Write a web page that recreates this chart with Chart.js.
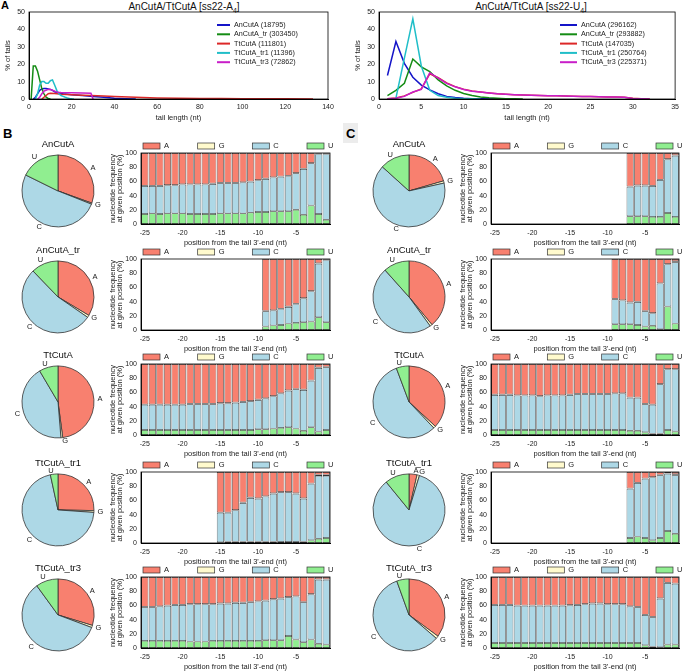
<!DOCTYPE html>
<html>
<head>
<meta charset="utf-8">
<script src="https://cdn.jsdelivr.net/npm/chart.js@4"></script>
<style>
  body { margin: 0; background: #fff; font-family: "Liberation Sans", Arial, sans-serif; }
  #page { position: relative; width: 683px; height: 671px; overflow: hidden; }
  canvas { position: absolute; }
  .panel { position: absolute; font-weight: bold; color: #000; }
  .ttl { position: absolute; top: 1px; width: 200px; text-align: center; font-size: 10px; line-height: 12px; color: #111; }
  .ttl sub { font-size: 7px; }
</style>
</head>
<body>
<div id="page">
  <div class="panel" style="left:1px;top:-1px;font-size:11px">A</div>
  <div class="panel" style="left:3px;top:126px;font-size:13px">B</div>
  <div style="position:absolute;left:343px;top:123px;width:15px;height:20px;background:#ececec"></div>
  <div class="panel" style="left:346px;top:126px;font-size:13px">C</div>
  <div class="ttl" style="left:84px">AnCutA/TtCutA [ss22-A<sub>4</sub>]</div>
  <div class="ttl" style="left:431px">AnCutA/TtCutA [ss22-U<sub>4</sub>]</div>
</div>
<script>
// ---- tail length distributions, ss22-A4 ----
const a4AnCutA_len = [2, 3, 4, 5, 6, 7, 8, 9, 10, 11, 12, 14, 16, 20, 25, 30, 35, 40, 45, 50];
const a4AnCutA_pct = [0, 1, 3, 5, 5.8, 6, 6, 5.8, 5.5, 5, 4.2, 3.5, 3, 2.5, 2, 1.5, 1, 0.5, 0.2, 0];
const a4AnCutAtr_len = [1, 2, 3, 4, 5, 6, 7, 8, 9, 10];
const a4AnCutAtr_pct = [0, 19, 19, 16, 11, 6, 3, 1, 0.3, 0.1];
const a4TtCutA_len = [6, 7, 8, 9, 10, 12, 15, 20, 25, 29, 35, 40, 50, 60, 70, 80, 90, 100, 110, 120, 133];
const a4TtCutA_pct = [0, 1, 2, 3, 3.3, 3.2, 2.8, 2.5, 2.2, 2, 1.7, 1.4, 1, 0.6, 0.45, 0.35, 0.25, 0.2, 0.15, 0.1, 0.05];
const a4TtCutAtr1_len = [3, 4, 5, 6, 7, 8, 9, 10, 11, 12, 13, 14, 15, 16, 17, 18, 19, 20, 21];
const a4TtCutAtr1_pct = [0, 3, 8, 10, 10, 9, 9, 10.5, 11, 8, 5, 3, 2, 1.5, 1, 0.6, 0.3, 0.1, 0];
const a4TtCutAtr3_len = [4, 5, 6, 7, 8, 9, 10, 11, 12, 13, 14, 15, 20, 25, 29, 30];
const a4TtCutAtr3_pct = [0, 1, 3, 4.5, 5, 5.5, 5.5, 5, 4.5, 4, 3.8, 3.7, 3.6, 3.5, 3.3, 0];

// ---- tail length distributions, ss22-U4 ----
const u4AnCutA_len = [1, 2, 3, 4, 5, 6, 7, 8, 9, 10, 11, 12, 15];
const u4AnCutA_pct = [13.5, 33, 20.5, 12.5, 8, 5.2, 3, 1.5, 0.8, 0.4, 0.2, 0.1, 0];
const u4AnCutAtr_len = [1, 2, 3, 4, 5, 6, 7, 8, 9, 10, 11, 12, 13, 14, 15, 16, 17];
const u4AnCutAtr_pct = [2, 5, 9, 23, 18.5, 15.7, 11, 7.5, 5, 3.2, 2, 1.2, 0.7, 0.4, 0.2, 0.1, 0];
const u4TtCutA_len = [1, 2, 3, 4, 5, 6, 7, 8, 9, 10, 11, 12, 13, 14, 15, 16, 17, 18, 19, 20, 21, 22, 23, 24, 25, 26, 27, 28, 29, 30, 31, 32];
const u4TtCutA_pct = [0.2, 0.6, 1.8, 3.8, 5.8, 14.5, 12.2, 9.2, 7.1, 5.6, 4.6, 4, 3.5, 3, 2.7, 2.5, 2.3, 2.1, 2, 1.9, 1.8, 1.7, 1.6, 1.5, 1.4, 1.3, 1.2, 1.1, 1, 0.4, 0.1, 0];
const u4TtCutAtr1_len = [2, 3, 4, 5, 6, 7, 8, 9, 10, 11, 12];
const u4TtCutAtr1_pct = [0.5, 23.5, 46, 19, 5, 2, 1, 0.4, 0.2, 0.1, 0];
const u4TtCutAtr3_len = [1, 2, 3, 4, 5, 6, 7, 8, 9, 10, 11, 12, 13, 14, 15, 16, 17, 18, 19, 20, 21, 22, 23, 24, 25, 26, 27, 28, 29, 30, 31, 32];
const u4TtCutAtr3_pct = [0.2, 0.5, 1.5, 4, 5.5, 15, 12, 9, 7, 5.5, 4.5, 4, 3.5, 3, 2.7, 2.5, 2.3, 2.1, 2, 1.9, 1.8, 1.7, 1.6, 1.5, 1.4, 1.3, 1.2, 1.1, 1, 0.3, 0.1, 0];

// ---- nucleotide composition ----
const nucleotides = ['A', 'G', 'C', 'U'];
const positions = [-25, -24, -23, -22, -21, -20, -19, -18, -17, -16, -15, -14, -13, -12, -11, -10, -9, -8, -7, -6, -5, -4, -3, -2, -1];

const pieB_AnCutA = [30.5, 0.5, 51.3, 17.7];
const pieB_AnCutAtr = [33.6, 1, 53.2, 12.2];
const pieB_TtCutA = [47.9, 0.8, 42.8, 8.5];
const pieB_TtCutAtr1 = [25.3, 0.8, 70.5, 3.4];
const pieB_TtCutAtr3 = [29.7, 1, 59.3, 10];
const pieC_AnCutA = [20.5, 1, 65.2, 13.3];
const pieC_AnCutAtr = [39, 1, 48.4, 11.6];
const pieC_TtCutA = [36.9, 1, 56.4, 5.7];
const pieC_TtCutAtr1 = [3.6, 1.1, 84.4, 10.9];
const pieC_TtCutAtr3 = [35.1, 1.2, 58.2, 5.5];

// panel B, per position (-25 .. -1)
const bAnCutA_U = [14, 15, 14, 15, 15, 15, 14, 14, 14, 14, 15, 15, 15, 15, 16, 17, 17, 18, 18, 18, 20, 13, 26, 14, 6];
const bAnCutA_C = [39.4, 38.4, 39.4, 39.4, 39.4, 40.4, 41.4, 41.4, 41.4, 42.4, 42.4, 42.4, 42.4, 43.4, 43.4, 44.4, 46.4, 47.4, 48.4, 49.4, 51.4, 64.4, 59.4, 84.4, 92.4];
const bAnCutA_G = [0.6, 0.6, 0.6, 0.6, 0.6, 0.6, 0.6, 0.6, 0.6, 0.6, 0.6, 0.6, 0.6, 0.6, 0.6, 0.6, 0.6, 0.6, 0.6, 0.6, 0.6, 0.6, 0.6, 0.6, 0.6];
const bAnCutA_A = [46, 46, 46, 45, 45, 44, 44, 44, 44, 43, 42, 42, 42, 41, 40, 38, 36, 34, 33, 32, 28, 22, 14, 1, 1];

const bAnCutAtr_U = [null, null, null, null, null, null, null, null, null, null, null, null, null, null, null, null, 5, 6.5, 7, 9, 10, 11, 12, 18, 11];
const bAnCutAtr_C = [null, null, null, null, null, null, null, null, null, null, null, null, null, null, null, null, 21.4, 20.9, 22.4, 23.4, 26.4, 33.4, 42.4, 75.4, 87.4];
const bAnCutAtr_G = [null, null, null, null, null, null, null, null, null, null, null, null, null, null, null, null, 0.6, 0.6, 0.6, 0.6, 0.6, 0.6, 0.6, 0.6, 0.6];
const bAnCutAtr_A = [null, null, null, null, null, null, null, null, null, null, null, null, null, null, null, null, 73, 72, 70, 67, 63, 55, 45, 6, 1];

const bTtCutA_U = [7, 7, 7, 7, 7, 7, 7, 7, 7, 7, 7, 7, 7, 7, 7, 8, 8, 9, 10, 11, 9, 6, 11, 5, 7];
const bTtCutA_C = [35.4, 35.4, 35.4, 35.4, 35.4, 35.4, 36.4, 36.4, 36.4, 36.4, 37.4, 37.4, 38.4, 39.4, 40.4, 41.4, 43.4, 45.4, 48.4, 51.4, 55.4, 57.4, 65.4, 89.4, 88.4];
const bTtCutA_G = [0.6, 0.6, 0.6, 0.6, 0.6, 0.6, 0.6, 0.6, 0.6, 0.6, 0.6, 0.6, 0.6, 0.6, 0.6, 0.6, 0.6, 0.6, 0.6, 0.6, 0.6, 0.6, 0.6, 0.6, 0.6];
const bTtCutA_A = [57, 57, 57, 57, 57, 57, 56, 56, 56, 56, 55, 55, 54, 53, 52, 50, 48, 45, 41, 37, 35, 36, 23, 5, 4];

const bTtCutAtr1_U = [null, null, null, null, null, null, null, null, null, null, 1, 2, 2, 2, 2, 2, 2, 2, 1.5, 1.5, 1.5, 2, 4, 6, 7];
const bTtCutAtr1_C = [null, null, null, null, null, null, null, null, null, null, 41.4, 40.4, 43.9, 54.4, 61.4, 60.4, 63.4, 67.4, 69.9, 69.9, 67.9, 60.4, 79.4, 88.5, 87.5];
const bTtCutAtr1_G = [null, null, null, null, null, null, null, null, null, null, 0.6, 0.6, 0.6, 0.6, 0.6, 0.6, 0.6, 0.6, 0.6, 0.6, 0.6, 0.6, 0.6, 1.5, 1.5];
const bTtCutAtr1_A = [null, null, null, null, null, null, null, null, null, null, 57, 57, 53.5, 43, 36, 37, 34, 30, 28, 28, 30, 37, 16, 4, 4];

const bTtCutAtr3_U = [10, 10, 10, 10, 10, 10, 9, 9, 9, 10, 10, 10, 10, 10, 10, 10, 11, 11, 11, 17, 12, 8, 12, 6, 5];
const bTtCutAtr3_C = [47.4, 47.4, 48.4, 49.4, 50.4, 50.4, 52.4, 52.4, 52.4, 51.4, 52.4, 52.4, 53.4, 53.4, 54.4, 55.4, 55.4, 57.4, 58.4, 54.4, 60.4, 56.4, 63.4, 90, 91];
const bTtCutAtr3_G = [0.6, 0.6, 0.6, 0.6, 0.6, 0.6, 0.6, 0.6, 0.6, 0.6, 0.6, 0.6, 0.6, 0.6, 0.6, 0.6, 0.6, 0.6, 0.6, 0.6, 0.6, 0.6, 0.6, 1, 1];
const bTtCutAtr3_A = [42, 42, 41, 40, 39, 39, 38, 38, 38, 38, 37, 37, 36, 36, 35, 34, 33, 31, 30, 28, 27, 35, 24, 3, 3];

// panel C, per position (-25 .. -1)
const cAnCutA_U = [null, null, null, null, null, null, null, null, null, null, null, null, null, null, null, null, null, null, 11, 11, 11, 10, 10, 15.5, 10];
const cAnCutA_C = [null, null, null, null, null, null, null, null, null, null, null, null, null, null, null, null, null, null, 41.4, 42.9, 42.9, 43.4, 51.9, 75.4, 86];
const cAnCutA_G = [null, null, null, null, null, null, null, null, null, null, null, null, null, null, null, null, null, null, 0.6, 0.6, 0.6, 0.6, 0.6, 0.6, 1];
const cAnCutA_A = [null, null, null, null, null, null, null, null, null, null, null, null, null, null, null, null, null, null, 47, 45.5, 45.5, 46, 37.5, 8.5, 3];

const cAnCutAtr_U = [null, null, null, null, null, null, null, null, null, null, null, null, null, null, null, null, 8, 8, 8, 7, 5, 6, 1, 33, 9];
const cAnCutAtr_C = [null, null, null, null, null, null, null, null, null, null, null, null, null, null, null, null, 35.4, 33.4, 30.4, 32.4, 21.4, 17.4, 64.4, 59.4, 86.5];
const cAnCutAtr_G = [null, null, null, null, null, null, null, null, null, null, null, null, null, null, null, null, 0.6, 0.6, 0.6, 0.6, 0.6, 0.6, 0.6, 0.6, 1.5];
const cAnCutAtr_A = [null, null, null, null, null, null, null, null, null, null, null, null, null, null, null, null, 56, 58, 61, 60, 73, 76, 34, 7, 3];

const cTtCutA_U = [7, 7, 7, 7, 7, 7, 7, 7, 7, 7, 7, 7, 7, 7, 7, 7, 7, 7, 6, 6, 4, 2, 2, 7, 5];
const cTtCutA_C = [49.4, 49.4, 49.4, 48.4, 48.4, 48.4, 47.4, 48.4, 48.4, 48.4, 49.4, 50.4, 50.4, 50.4, 50.4, 50.4, 51.4, 51.4, 46.4, 46.4, 39.4, 40.4, 69.4, 85.4, 87.4];
const cTtCutA_G = [0.6, 0.6, 0.6, 0.6, 0.6, 0.6, 0.6, 0.6, 0.6, 0.6, 0.6, 0.6, 0.6, 0.6, 0.6, 0.6, 0.6, 0.6, 0.6, 0.6, 0.6, 0.6, 0.6, 0.6, 0.6];
const cTtCutA_A = [43, 43, 43, 44, 44, 44, 45, 44, 44, 44, 43, 42, 42, 42, 42, 42, 41, 41, 47, 47, 56, 57, 28, 7, 7];

const cTtCutAtr1_U = [null, null, null, null, null, null, null, null, null, null, null, null, null, null, null, null, null, null, 7, 9, 7, 4, 7, 17, 13];
const cTtCutAtr1_C = [null, null, null, null, null, null, null, null, null, null, null, null, null, null, null, null, null, null, 69.4, 75.4, 83.4, 88.4, 88.4, 80.4, 82.5];
const cTtCutAtr1_G = [null, null, null, null, null, null, null, null, null, null, null, null, null, null, null, null, null, null, 0.6, 0.6, 0.6, 0.6, 0.6, 0.6, 1.5];
const cTtCutAtr1_A = [null, null, null, null, null, null, null, null, null, null, null, null, null, null, null, null, null, null, 23, 15, 9, 7, 4, 2, 3];

const cTtCutAtr3_U = [7, 7, 7, 7, 7, 7, 7, 7, 7, 7, 7, 7, 7, 7, 7, 7, 7, 7, 7, 7, 4, 2, 1, 5, 5];
const cTtCutAtr3_C = [53.4, 53.4, 53.4, 52.4, 52.4, 52.4, 52.4, 52.4, 52.4, 52.4, 52.9, 53.4, 54.4, 55.4, 55.4, 54.4, 54.4, 54.4, 51.4, 50.4, 42.4, 41.4, 68.4, 86.4, 85.4];
const cTtCutAtr3_G = [0.6, 0.6, 0.6, 0.6, 0.6, 0.6, 0.6, 0.6, 0.6, 0.6, 0.6, 0.6, 0.6, 0.6, 0.6, 0.6, 0.6, 0.6, 0.6, 0.6, 0.6, 0.6, 0.6, 0.6, 0.6];
const cTtCutAtr3_A = [39, 39, 39, 40, 40, 40, 40, 40, 40, 40, 39.5, 39, 38, 37, 37, 38, 38, 38, 41, 42, 53, 56, 30, 8, 9];

const nucColors = { A: '#f8806f', G: '#fffacd', C: '#add8e6', U: '#90ee90' };

Chart.defaults.font.family = '"Liberation Sans", Arial, sans-serif';
Chart.defaults.font.size = 7;
Chart.defaults.color = '#222';
Chart.defaults.animation = false;
Chart.defaults.responsive = false;
Chart.defaults.plugins.legend.display = false;
Chart.defaults.plugins.tooltip.enabled = false;

const page = document.getElementById('page');
function makeCanvas(left, top, w, h) {
  const c = document.createElement('canvas');
  c.width = w; c.height = h;
  c.style.left = left + 'px'; c.style.top = top + 'px';
  c.style.width = w + 'px'; c.style.height = h + 'px';
  page.appendChild(c);
  return c.getContext('2d');
}

// box around the plot area, gnuplot style
const frame = {
  id: 'frame',
  afterDraw(chart) {
    const a = chart.chartArea, c = chart.ctx;
    c.save();
    c.strokeStyle = '#000';
    c.lineWidth = 0.8;
    c.strokeRect(a.left, a.top, a.width, a.height);
    c.restore();
  }
};

// legend inside the line plots
const lineLegend = {
  id: 'lineLegend',
  afterDraw(chart, args, opts) {
    const c = chart.ctx;
    c.save();
    c.font = '7.2px "Liberation Sans", Arial, sans-serif';
    c.textBaseline = 'middle';
    chart.data.datasets.forEach((ds, i) => {
      const y = opts.y + i * 9.3;
      c.strokeStyle = ds.borderColor;
      c.lineWidth = 2;
      c.beginPath();
      c.moveTo(opts.x, y);
      c.lineTo(opts.x + opts.len, y);
      c.stroke();
      c.fillStyle = '#222';
      c.fillText(ds.label, opts.x + opts.len + 4, y);
    });
    c.restore();
  }
};

// A / G / C / U boxes above the bar plots
const boxLegend = {
  id: 'boxLegend',
  afterDraw(chart) {
    const a = chart.chartArea, c = chart.ctx;
    const items = chart.data.datasets.slice().reverse();
    const step = (a.width - 25) / 3;
    c.save();
    c.font = '7.5px "Liberation Sans", Arial, sans-serif';
    c.textBaseline = 'middle';
    items.forEach((d, i) => {
      const x = a.left + 2 + i * step, y = a.top - 10;
      c.fillStyle = d.backgroundColor;
      c.fillRect(x, y, 17, 6);
      c.strokeStyle = '#333';
      c.lineWidth = 0.7;
      c.strokeRect(x, y, 17, 6);
      c.fillStyle = '#222';
      c.fillText(d.label, x + 21, y + 3);
    });
    c.restore();
  }
};

// slice letters around the pies, left/right aligned by side
const pieLabels = {
  id: 'pieLabels',
  afterDraw(chart) {
    const c = chart.ctx;
    c.save();
    c.font = '7.5px "Liberation Sans", Arial, sans-serif';
    c.fillStyle = '#222';
    c.textBaseline = 'middle';
    chart.getDatasetMeta(0).data.forEach((arc, i) => {
      const mid = (arc.startAngle + arc.endAngle) / 2;
      const r = arc.outerRadius * 1.1;
      const dx = Math.cos(mid), dy = Math.sin(mid);
      c.textAlign = dx > 0.08 ? 'left' : (dx < -0.08 ? 'right' : 'center');
      c.fillText(chart.data.labels[i], arc.x + dx * r, arc.y + dy * r + (Math.abs(dx) <= 0.08 ? dy * 3 : 0));
    });
    c.restore();
  }
};

function tailChart(left, width, padLeft, padRight, xMax, xStep, series, legend) {
  const ctx = makeCanvas(left, 0, width, 122);
  return new Chart(ctx, {
    type: 'line',
    data: {
      datasets: series.map((s, i) => ({
        label: s.label,
        data: s.len.map((x, j) => ({ x, y: s.pct[j] })),
        borderColor: s.color,
        backgroundColor: s.color,
        borderWidth: 1.5,
        pointRadius: 0,
        tension: 0,
        order: series.length - i
      }))
    },
    options: {
      layout: { padding: { top: 12, left: padLeft, right: padRight, bottom: 0 } },
      scales: {
        x: {
          type: 'linear', min: 0, max: xMax,
          ticks: { stepSize: xStep, padding: 4, maxRotation: 0 },
          grid: { display: false, drawTicks: false },
          border: { color: '#000' },
          title: { display: true, text: 'tail length (nt)', font: { size: 7.5 }, padding: 0 },
          afterFit: s => { s.height = 23; }
        },
        y: {
          min: 0, max: 50,
          ticks: { stepSize: 10, padding: 4 },
          grid: { display: false, drawTicks: false },
          border: { color: '#000' },
          title: { display: true, text: '% of tails', font: { size: 7.5 }, padding: { top: 3, bottom: 0 } },
          afterFit: s => { s.width = 29; }
        }
      },
      plugins: { lineLegend: legend }
    },
    plugins: [frame, lineLegend]
  });
}

tailChart(0, 340, 0, 12, 140, 20, [
  { label: 'AnCutA (18795)', len: a4AnCutA_len, pct: a4AnCutA_pct, color: '#1414c8' },
  { label: 'AnCutA_tr (303450)', len: a4AnCutAtr_len, pct: a4AnCutAtr_pct, color: '#148c14' },
  { label: 'TtCutA (111801)', len: a4TtCutA_len, pct: a4TtCutA_pct, color: '#dc2828' },
  { label: 'TtCutA_tr1 (11396)', len: a4TtCutAtr1_len, pct: a4TtCutAtr1_pct, color: '#20bec8' },
  { label: 'TtCutA_tr3 (72862)', len: a4TtCutAtr3_len, pct: a4TtCutAtr3_pct, color: '#c81ec8' }
], { x: 217, y: 25, len: 13 });

tailChart(340, 343, 10, 5, 35, 5, [
  { label: 'AnCutA (296162)', len: u4AnCutA_len, pct: u4AnCutA_pct, color: '#1414c8' },
  { label: 'AnCutA_tr (293882)', len: u4AnCutAtr_len, pct: u4AnCutAtr_pct, color: '#148c14' },
  { label: 'TtCutA (147035)', len: u4TtCutA_len, pct: u4TtCutA_pct, color: '#dc2828' },
  { label: 'TtCutA_tr1 (250764)', len: u4TtCutAtr1_len, pct: u4TtCutAtr1_pct, color: '#20bec8' },
  { label: 'TtCutA_tr3 (225371)', len: u4TtCutAtr3_len, pct: u4TtCutAtr3_pct, color: '#c81ec8' }
], { x: 220, y: 25, len: 17 });

function pieChart(cx, top, title, values) {
  const ctx = makeCanvas(cx - 58, top - 15, 116, 103);
  return new Chart(ctx, {
    type: 'pie',
    data: {
      labels: nucleotides,
      datasets: [{
        data: values,
        backgroundColor: nucleotides.map(n => nucColors[n]),
        borderColor: '#333',
        borderWidth: 0.8,
        hoverOffset: 0,
        radius: 36
      }]
    },
    options: {
      layout: { padding: { left: 22, right: 22, top: 0, bottom: 14 } },
      plugins: {
        title: { display: true, text: title, color: '#111', font: { size: 9.5, weight: 'normal', lineHeight: 1.25 }, padding: { top: 0, bottom: 5 } }
      }
    },
    plugins: [pieLabels]
  });
}

function nucChart(plotLeft, plotRight, canvasRight, top, U, C, G, A) {
  const left = plotLeft - 36;
  const ctx = makeCanvas(left, top - 14, canvasRight - left, 108);
  const set = (label, data) => ({
    label, data,
    backgroundColor: nucColors[label],
    borderColor: '#333',
    borderWidth: 0.7,
    borderSkipped: false,
    categoryPercentage: 0.94,
    barPercentage: 1
  });
  return new Chart(ctx, {
    type: 'bar',
    data: {
      labels: positions,
      datasets: [set('U', U), set('C', C), set('G', G), set('A', A)]
    },
    options: {
      layout: { padding: { top: 14, right: canvasRight - plotRight, left: 0, bottom: 0 } },
      scales: {
        x: {
          stacked: true,
          grid: { display: false, drawTicks: false },
          border: { color: '#000' },
          ticks: {
            autoSkip: false, maxRotation: 0, minRotation: 0, padding: 5,
            callback: (v, i) => (positions[i] % 5 === 0 ? String(positions[i]) : '')
          },
          title: { display: true, text: "position from the tail 3'-end (nt)", font: { size: 7.5 }, padding: 0 },
          afterFit: s => { s.height = 23; }
        },
        y: {
          stacked: true, min: 0, max: 100,
          ticks: { stepSize: 20, padding: 4 },
          grid: { display: false, drawTicks: false },
          border: { color: '#000' },
          title: { display: true, text: ['nucleotide frequency', 'at given position (%)'], font: { size: 7.5, lineHeight: 1 }, padding: { top: 4, bottom: 0 } },
          afterFit: s => { s.width = 36; }
        }
      }
    },
    plugins: [frame, boxLegend]
  });
}

const rowTops = [153, 259, 364, 472, 577];

pieChart(58, rowTops[0], 'AnCutA', pieB_AnCutA);
pieChart(58, rowTops[1], 'AnCutA_tr', pieB_AnCutAtr);
pieChart(58, rowTops[2], 'TtCutA', pieB_TtCutA);
pieChart(58, rowTops[3], 'TtCutA_tr1', pieB_TtCutAtr1);
pieChart(58, rowTops[4], 'TtCutA_tr3', pieB_TtCutAtr3);

pieChart(409, rowTops[0], 'AnCutA', pieC_AnCutA);
pieChart(409, rowTops[1], 'AnCutA_tr', pieC_AnCutAtr);
pieChart(409, rowTops[2], 'TtCutA', pieC_TtCutA);
pieChart(409, rowTops[3], 'TtCutA_tr1', pieC_TtCutAtr1);
pieChart(409, rowTops[4], 'TtCutA_tr3', pieC_TtCutAtr3);

nucChart(141, 330, 340, rowTops[0], bAnCutA_U, bAnCutA_C, bAnCutA_G, bAnCutA_A);
nucChart(141, 330, 340, rowTops[1], bAnCutAtr_U, bAnCutAtr_C, bAnCutAtr_G, bAnCutAtr_A);
nucChart(141, 330, 340, rowTops[2], bTtCutA_U, bTtCutA_C, bTtCutA_G, bTtCutA_A);
nucChart(141, 330, 340, rowTops[3], bTtCutAtr1_U, bTtCutAtr1_C, bTtCutAtr1_G, bTtCutAtr1_A);
nucChart(141, 330, 340, rowTops[4], bTtCutAtr3_U, bTtCutAtr3_C, bTtCutAtr3_G, bTtCutAtr3_A);

nucChart(491, 679, 683, rowTops[0], cAnCutA_U, cAnCutA_C, cAnCutA_G, cAnCutA_A);
nucChart(491, 679, 683, rowTops[1], cAnCutAtr_U, cAnCutAtr_C, cAnCutAtr_G, cAnCutAtr_A);
nucChart(491, 679, 683, rowTops[2], cTtCutA_U, cTtCutA_C, cTtCutA_G, cTtCutA_A);
nucChart(491, 679, 683, rowTops[3], cTtCutAtr1_U, cTtCutAtr1_C, cTtCutAtr1_G, cTtCutAtr1_A);
nucChart(491, 679, 683, rowTops[4], cTtCutAtr3_U, cTtCutAtr3_C, cTtCutAtr3_G, cTtCutAtr3_A);
</script>
</body>
</html>
